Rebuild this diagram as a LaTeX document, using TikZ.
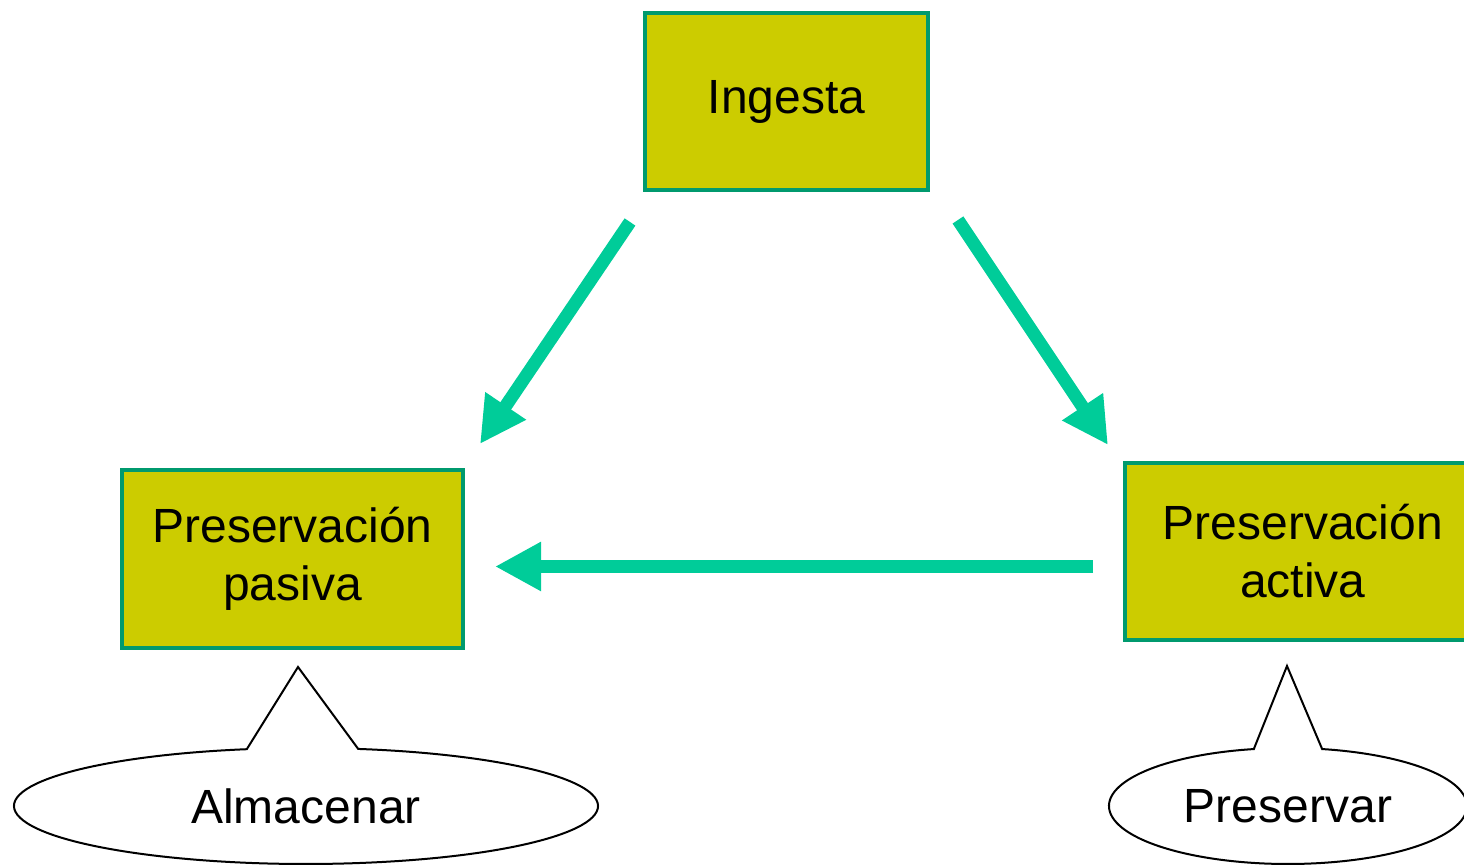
\documentclass[tikz,border=0pt]{standalone}
\usepackage{fontspec}
\setmainfont{Liberation Sans}
\usetikzlibrary{arrows.meta}

\definecolor{olivo}{HTML}{CCCC00}
\definecolor{borde}{HTML}{009A6E}
\definecolor{flecha}{HTML}{00CC99}

\begin{document}
\begin{tikzpicture}[x=0.5pt, y=0.5pt,
		caja/.style={draw=borde, fill=olivo, line width=2pt, rectangle, align=center, inner sep=0pt, font=\fontsize{24}{29}\selectfont},
		flechagorda/.style={draw=flecha, line width=6.5pt, -{Triangle[length=23pt, width=23pt]}},
		globo/.style={draw=black, line width=1pt, fill=white},
		texto/.style={font=\fontsize{24}{29}\selectfont}]
		
		\useasboundingbox (0,0) rectangle (1464,866);
		
		% Cajas
		\node [caja, minimum width=141.5pt, minimum height=88.5pt] (ingesta) at (786.5,764.5) {Ingesta};
		\node [caja, minimum width=170.5pt, minimum height=89pt] (pasiva) at (292.5,307) {Preservación\\pasiva};
		\node [caja, minimum width=178pt, minimum height=88.5pt] (activa) at (1303,314.5) {Preservación\\activa};
		
		% Flechas
		\draw [flechagorda] ([shift={(-13,-30)}]ingesta.south west) -- ([shift={(15,24)}]pasiva.north east);
		\draw [flechagorda] ([shift={(28,-28)}]ingesta.south east) -- ([shift={(-15,16)}]activa.north west);
		\draw [flechagorda] ([shift={(-30,-15)}]activa.west) -- ([shift={(30,-7.5)}]pasiva.east);
		
		% Globos
		\draw [globo] ([shift={(306,60)}]79.7:292 and 58) -- (298,199) -- ([shift={(306,60)}]101.7:292 and 58)
			arc[start angle=101.7, end angle=439.7, x radius=292, y radius=58] -- cycle;
		\node [texto] (almacenar) at (306,60) {Almacenar};
		
		\draw [globo] ([shift={(1288,60)}]79:179 and 58) -- (1287,200) -- ([shift={(1288,60)}]101:179 and 58)
			arc[start angle=101, end angle=439, x radius=179, y radius=58] -- cycle;
		\node [texto] (preservar) at (1288,60) {Preservar};
		
	\end{tikzpicture}
\end{document}
